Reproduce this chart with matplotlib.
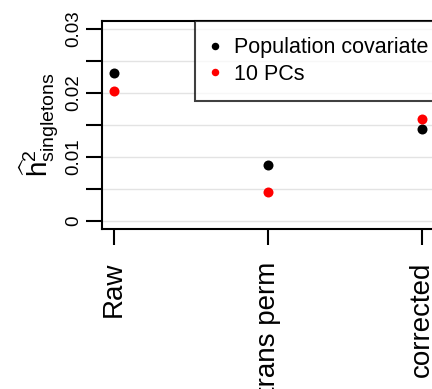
import matplotlib
matplotlib.use("Agg")
import matplotlib.pyplot as plt
import numpy as np

categories = ["Raw", "trans perm", "corrected"]
pop_cov = [0.0232, 0.00875, 0.01437]
pcs10 = [0.0203, 0.00448, 0.01594]
ytick_vals = [0, 0.005, 0.01, 0.015, 0.02, 0.025, 0.03]
ytick_labels = ["0", "", "0.01", "", "0.02", "", "0.03"]

plt.rcParams['font.family'] = ['Liberation Sans', 'DejaVu Sans']
plt.rcParams['mathtext.fontset'] = 'custom'
plt.rcParams['mathtext.rm'] = 'Liberation Sans'
plt.rcParams['mathtext.it'] = 'Liberation Sans'
plt.rcParams['mathtext.bf'] = 'Liberation Sans:bold'

fig = plt.figure(figsize=(4.32, 3.89), dpi=100)
ax = fig.add_axes([102/432, 1-229/389, 332/432, 208/389])

x = np.arange(1, len(categories)+1)
for yv in ytick_vals:
    ax.axhline(yv, color='#e3e3e3', lw=1.0, zorder=0)

ax.plot(x, pop_cov, 'o', color='black', ms=7.2, mew=0, label='Population covariate', zorder=3)
ax.plot(x, pcs10, 'o', color='#ff0000', ms=7.2, mew=0, label='10 PCs', zorder=3)

ax.set_xlim(1-12/154, 3+12/154)
ax.set_ylim(-8/6400, 200/6400)
ax.set_xticks(x)
ax.set_xticklabels(categories, rotation=90, fontsize=20)
ax.set_yticks(ytick_vals)
ax.set_yticklabels(ytick_labels, rotation=90, va='center', fontsize=13.5)
ax.tick_params(axis='both', length=11.5, width=1.5, direction='out')
ax.tick_params(axis='x', pad=12)
ax.tick_params(axis='y', pad=3)
for s in ax.spines.values():
    s.set_linewidth(1.5)

ax.set_ylabel(r'$\widehat{\mathrm{h}}^{2}_{\mathrm{singletons}}$', fontsize=20, labelpad=3)

leg = ax.legend(loc='upper left', bbox_to_anchor=(0.28, 0.0, 0.72, 1.0), mode='expand',
                borderaxespad=0, fontsize=15.5, frameon=True, fancybox=False,
                edgecolor='black', framealpha=0.75, borderpad=0.75, labelspacing=0.25,
                handlelength=0.4, handletextpad=0.67, markerscale=0.75)
leg.get_frame().set_linewidth(1.5)

fig.savefig('out.png', dpi=100)
